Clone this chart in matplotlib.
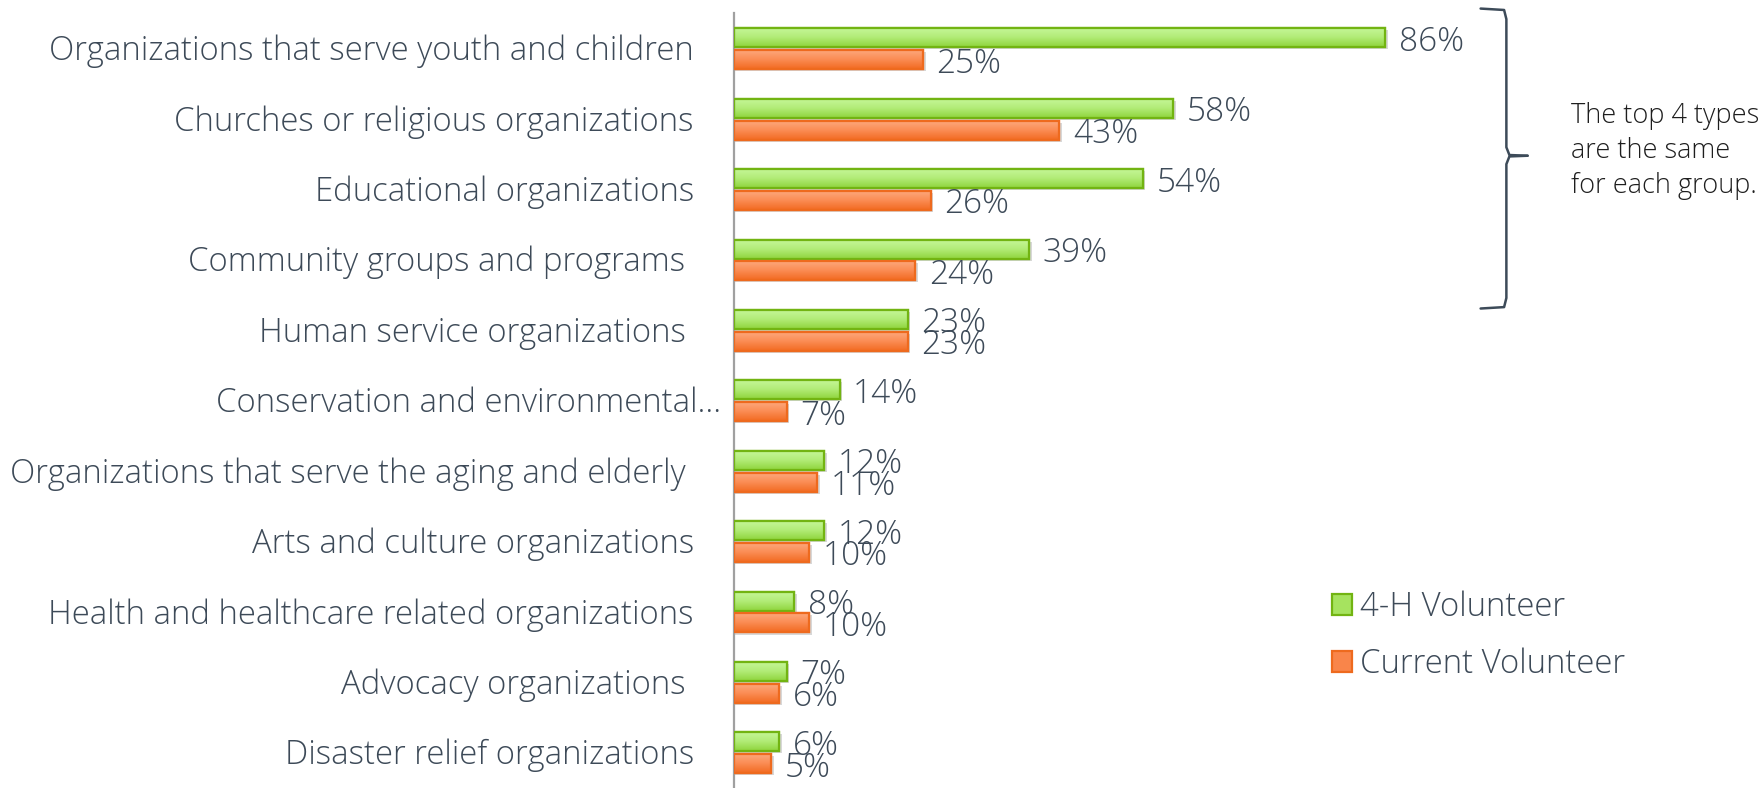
import matplotlib
matplotlib.use("Agg")
import matplotlib.pyplot as plt
import matplotlib.transforms as mtransforms
import numpy as np
from matplotlib.colors import LinearSegmentedColormap
from matplotlib.patches import Patch

categories = [
    "Organizations that serve youth and children",
    "Churches or religious organizations",
    "Educational organizations",
    "Community groups and programs ",
    "Human service organizations ",
    "Conservation and environmental\u2026",
    "Organizations that serve the aging and elderly ",
    "Arts and culture organizations",
    "Health and healthcare related organizations",
    "Advocacy organizations ",
    "Disaster relief organizations",
]
volunteer_4h = [86, 58, 54, 39, 23, 14, 12, 12, 8, 7, 6]
current_vol = [25, 43, 26, 24, 23, 7, 11, 10, 10, 6, 5]
series_names = ["4-H Volunteer", "Current Volunteer"]

plt.rcParams['font.family'] = ['Open Sans', 'DejaVu Sans']
plt.rcParams['font.weight'] = 'light'
TXT = "#3d4a58"
FS = 23.7

fig = plt.figure(figsize=(17.64, 7.88), dpi=100)
ax = fig.add_axes([733.5 / 1764, 0, 1 - 733.5 / 1764, (788 - 13.5) / 788])

y = np.arange(len(categories))
h = 0.27
off = 0.155

green_cmap = LinearSegmentedColormap.from_list("g", ["#c6f79a", "#b2ec78", "#8fd43c"])
orange_cmap = LinearSegmentedColormap.from_list("o", ["#fdab80", "#fb8d55", "#f26b22"])

b1 = ax.barh(y - off, volunteer_4h, height=h, color="#a6e35f", edgecolor="#72b412", linewidth=1.6, zorder=2)
b2 = ax.barh(y + off, current_vol, height=h, color="#f9854a", edgecolor="#ee6a1e", linewidth=1.6, zorder=2)

grad = np.linspace(0, 1, 64).reshape(-1, 1)
for bars, cmap in ((b1, green_cmap), (b2, orange_cmap)):
    for r in bars:
        x0, y0 = r.get_x(), r.get_y()
        w, hh = r.get_width(), r.get_height()
        ax.add_patch(plt.Rectangle((x0, y0 + 0.03), w + 0.35, hh, color="#d8d8d8", zorder=1, lw=0))
        im = ax.imshow(grad, cmap=cmap, aspect='auto', extent=(x0, x0 + w, y0 + hh, y0), zorder=2.5,
                       interpolation='bicubic')
        im.set_clip_path(r)
        r2 = plt.Rectangle((x0, y0), w, hh, fill=False, edgecolor=r.get_edgecolor(), lw=1.6, zorder=3)
        ax.add_patch(r2)

for yi, v in zip(y, volunteer_4h):
    ax.text(v + 1.8, yi - off + 0.06, f"{v}%", va='center', ha='left', fontsize=24, color=TXT)
for yi, v in zip(y, current_vol):
    ax.text(v + 1.8, yi + off + 0.06, f"{v}%", va='center', ha='left', fontsize=24, color=TXT)

ax.set_xlim(0, 136)
ax.set_ylim(10.5, -0.5)
ax.set_yticks([])
ax.set_xticks([])

# category labels (right-aligned left of the axis)
blend = mtransforms.blended_transform_factory(ax.transAxes, ax.transData)
for i, cat in enumerate(categories):
    gap = 12 if cat.endswith("\u2026") else 39.5
    tr = blend + mtransforms.ScaledTranslation(-gap / 100, 0, fig.dpi_scale_trans)
    ax.text(0, i + 0.04, cat, transform=tr, ha='right', va='center', fontsize=FS, color=TXT, clip_on=False)

for s in ["top", "right", "bottom"]:
    ax.spines[s].set_visible(False)
ax.spines["left"].set_color("#a0a0a0")
ax.spines["left"].set_linewidth(1.6)

# bracket
bx, tipx, endx = 102.0, 104.8, 98.6
ytop, ybot, ymid = -0.57, 3.69, 1.52
bc = "#3d4b59"
ax.plot([endx, bx - 0.3, bx, bx, bx + 0.4, tipx], [ytop, ytop + 0.02, ytop + 0.15, ymid - 0.12, ymid - 0.01, ymid],
        color=bc, lw=1.8, clip_on=False, solid_capstyle='round')
ax.plot([endx, bx - 0.3, bx, bx, bx + 0.4, tipx], [ybot, ybot - 0.02, ybot - 0.15, ymid + 0.12, ymid + 0.01, ymid],
        color=bc, lw=1.8, clip_on=False, solid_capstyle='round')

for txt, yy in (("The top 4 types", 116), ("are the same", 151), ("for each group.", 186)):
    fig.text(1571 / 1764, 1 - yy / 788, txt, fontsize=19.5, color="#1e1e1e", va='center', ha='left')

handles = [Patch(facecolor="#a6e35f", edgecolor="#72b412", lw=1.6),
           Patch(facecolor="#f9854a", edgecolor="#ee6a1e", lw=1.6)]
leg = fig.legend(handles, series_names, loc='center left', bbox_to_anchor=(1332 / 1764, 1 - 636 / 788),
                 frameon=False, fontsize=23.7, handlelength=0.6, handleheight=0.6, handletextpad=0.25,
                 labelspacing=0.72, borderaxespad=0, borderpad=0)
for t in leg.get_texts():
    t.set_color(TXT)

fig.savefig("out.png", dpi=100)
